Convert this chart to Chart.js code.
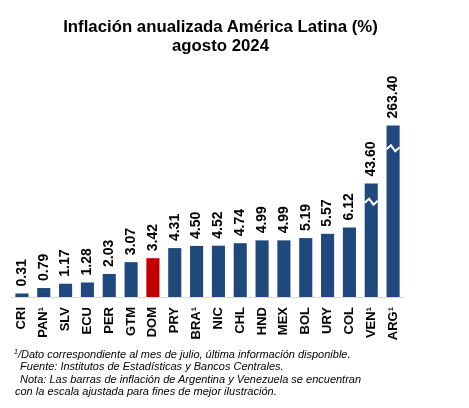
<!DOCTYPE html>
<html>
<head>
<meta charset="utf-8">
<script src="https://cdn.jsdelivr.net/npm/chart.js@4"></script>
<style>
  html, body { margin: 0; padding: 0; background: #fff; }
  #wrap { position: relative; width: 469px; height: 408px; font-family: Arial, "Liberation Sans", sans-serif; color: #000; }
  #title { position: absolute; left: 0; top: 18px; width: 441px; text-align: center; font-weight: bold; font-size: 16.8px; line-height: 18.5px; }
  #chart { position: absolute; left: 0; top: 0; }
  .note { position: absolute; font-style: italic; font-size: 11px; line-height: 13px; white-space: nowrap; }
  .note sup { font-size: 7px; line-height: 0; vertical-align: baseline; position: relative; top: -4px; }
</style>
</head>
<body>
<div id="wrap">
  <canvas id="chart" width="469" height="350"></canvas>
  <div id="title">Inflación anualizada América Latina (%)<br>agosto 2024</div>
  <div class="note" style="left:14px;top:348px"><sup>1</sup>/Dato correspondiente al mes de julio, última información disponible.</div>
  <div class="note" style="left:17px;top:360px">&nbsp;Fuente: Institutos de Estadísticas y Bancos Centrales.</div>
  <div class="note" style="left:17px;top:373px">&nbsp;Nota: Las barras de inflación de Argentina y Venezuela se encuentran</div>
  <div class="note" style="left:15px;top:385px">con la escala ajustada para fines de mejor ilustración.</div>
</div>
<script>
// ----- data -----
const categories = ['CRI', 'PAN¹', 'SLV', 'ECU', 'PER', 'GTM', 'DOM', 'PRY', 'BRA¹', 'NIC',
  'CHL', 'HND', 'MEX', 'BOL', 'URY', 'COL', 'VEN¹', 'ARG¹']
const inflation = [0.31, 0.79, 1.17, 1.28, 2.03, 3.07, 3.42, 4.31, 4.50, 4.52,
  4.74, 4.99, 4.99, 5.19, 5.57, 6.12, 43.60, 263.40]
// VEN and ARG are drawn on an adjusted scale (heights)
const barHeights = [0.31, 0.79, 1.17, 1.28, 2.03, 3.07, 3.42, 4.31, 4.50, 4.52,
  4.74, 4.99, 4.99, 5.19, 5.57, 6.12, 10.0, 15.1]
// where the scale-break zigzag sits on the adjusted bars
const breakAt = [null, null, null, null, null, null, null, null, null, null,
  null, null, null, null, null, null, 8.4, 13.1]
const highlight = 'DOM'

const BLUE = '#1f497d'
const RED = '#c00000'
const FONT = 'Arial, "Liberation Sans", sans-serif'

// value labels + zigzag breaks
const barExtras = {
  id: 'barExtras',
  afterDatasetsDraw(chart) {
    const { ctx } = chart
    const meta = chart.getDatasetMeta(0)
    const yScale = chart.scales.y
    ctx.save()
    meta.data.forEach((bar, i) => {
      // zigzag
      if (breakAt[i] != null) {
        const y = yScale.getPixelForValue(breakAt[i])
        const h = bar.width / 2
        ctx.beginPath()
        ctx.moveTo(bar.x - h, y + 1)
        ctx.lineTo(bar.x - h / 3, y - 3)
        ctx.lineTo(bar.x + h / 3, y + 3)
        ctx.lineTo(bar.x + h, y - 1)
        ctx.strokeStyle = '#fff'
        ctx.lineWidth = 2
        ctx.stroke()
      }
      // label
      ctx.save()
      ctx.translate(bar.x, bar.y - 7)
      ctx.rotate(-Math.PI / 2)
      ctx.font = 'bold 14px ' + FONT
      ctx.fillStyle = '#000'
      ctx.textAlign = 'left'
      ctx.textBaseline = 'middle'
      ctx.fillText(inflation[i].toFixed(2), 0, 0)
      ctx.restore()
    })
    ctx.restore()
  }
}

new Chart(document.getElementById('chart'), {
  type: 'bar',
  data: {
    labels: categories,
    datasets: [{
      data: barHeights,
      backgroundColor: categories.map(c => c === highlight ? RED : BLUE),
      barPercentage: 0.6,
      categoryPercentage: 1,
    }],
  },
  options: {
    responsive: false,
    devicePixelRatio: 1,
    animation: false,
    layout: { padding: { top: 70, left: 11, right: 65, bottom: 0 } },
    plugins: {
      legend: { display: false },
      tooltip: { enabled: false },
    },
    scales: {
      x: {
        grid: { display: false, drawTicks: false },
        border: { display: true, color: '#d9d9d9', width: 1 },
        ticks: {
          autoSkip: false,
          minRotation: 90,
          maxRotation: 90,
          padding: 10,
          color: '#000',
          font: { family: FONT, size: 13, weight: 'bold' },
        },
        afterFit(axis) { axis.height = 53 },
      },
      y: {
        display: false,
        min: 0,
        max: 20,
      },
    },
  },
  plugins: [barExtras],
})
</script>
</body>
</html>
